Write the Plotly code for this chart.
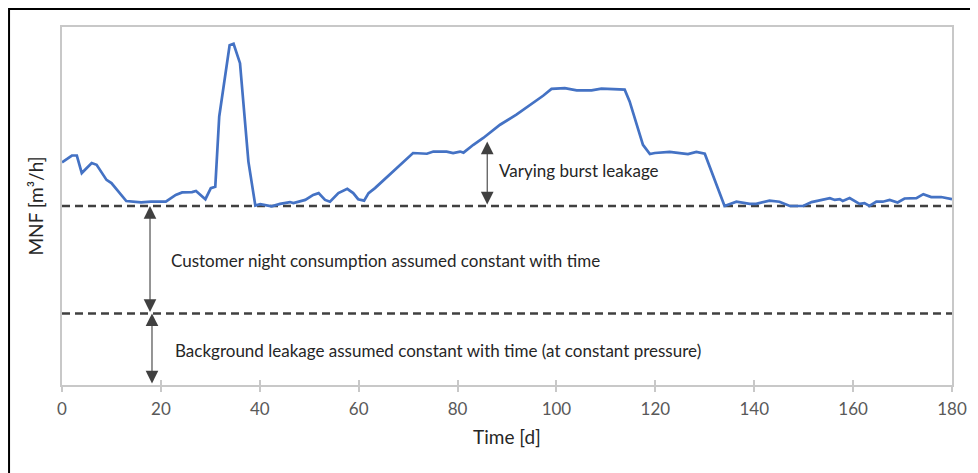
import plotly.graph_objects as go

# MNF time series (day, value in arbitrary flow units)
days = [0, 2, 3, 4, 6, 7, 9, 10, 13, 14.5, 16, 18, 21, 23, 24.3, 26.3, 27.1, 29, 30.1, 31, 31.8,
        33.9, 34.7, 36, 37.7, 39.1, 40.1, 42.4, 44.1, 46.1, 46.8, 49.2, 50.8, 51.9, 53.2, 54.2,
        55.9, 57.7, 58.9, 59.9, 61.1, 62, 63.3, 71, 72.4, 73.8, 75.1, 77.8, 79.1, 80.5, 81.2,
        83.2, 85.2, 88.6, 91.9, 95.3, 97.3, 99, 101.7, 104.1, 107.1, 109.1, 112.5, 113.8,
        114.8, 116.2, 117.5, 118.9, 119.9, 122.9, 126.6, 128.3, 130, 134, 136.4, 139.1, 140.4,
        143.1, 145.1, 147.2, 149.9, 151.6, 155.3, 156.3, 157.3, 157.9, 159.3, 161.3, 162.3,
        163.3, 164.7, 166, 167.4, 169, 170.4, 172.8, 174.2, 175.8, 177.8, 180]
mnf = [6.22, 6.41, 6.41, 5.92, 6.20, 6.15, 5.73, 5.64, 5.14, 5.12, 5.10, 5.12, 5.12, 5.31, 5.38,
       5.39, 5.42, 5.19, 5.50, 5.54, 7.50, 9.49, 9.53, 8.99, 6.24, 5.01, 5.05, 4.99, 5.06, 5.11,
       5.08, 5.17, 5.31, 5.36, 5.17, 5.12, 5.36, 5.48, 5.36, 5.19, 5.15, 5.36, 5.50, 6.48, 6.48,
       6.46, 6.52, 6.52, 6.48, 6.52, 6.49, 6.71, 6.90, 7.27, 7.55, 7.88, 8.08, 8.27, 8.29, 8.23,
       8.23, 8.28, 8.25, 8.25, 7.92, 7.27, 6.71, 6.45, 6.48, 6.51, 6.45, 6.51, 6.46, 5.00, 5.12,
       5.06, 5.06, 5.15, 5.12, 5.00, 5.00, 5.11, 5.22, 5.17, 5.19, 5.14, 5.22, 5.06, 5.08, 5.00,
       5.12, 5.12, 5.17, 5.10, 5.21, 5.22, 5.33, 5.25, 5.25, 5.19]

# Constant levels
background_level = 2.0
customer_top_level = 5.0
x_span = [0, 180]

x_ticks = [0, 20, 40, 60, 80, 100, 120, 140, 160, 180]

# Arrow annotations: (x, y_from, y_to)
burst_arrow = (86, 5.0, 6.80)
customer_arrow = (17.8, 2.0, 5.0)
background_arrow = (18.2, 0.0, 2.0)

labels = [
    ("Varying burst leakage", 88, 5.98),
    ("Customer night consumption assumed constant with time", 21.7, 3.47),
    ("Background leakage assumed constant with time (at constant pressure)", 22.5, 0.95),
]

FONT = "Lato, 'Open Sans', sans-serif"
DARK = "#404040"

fig = go.Figure()

for lvl in [customer_top_level, background_level]:
    fig.add_trace(go.Scatter(x=x_span, y=[lvl, lvl], mode="lines",
                             line=dict(color=DARK, width=2.5, dash="8px,5px"),
                             hoverinfo="skip", showlegend=False))

fig.add_trace(go.Scatter(x=days, y=mnf, mode="lines",
                         line=dict(color="#4472C4", width=2.7),
                         showlegend=False))

# invisible trace for overlay axis
fig.add_trace(go.Scatter(x=x_span, y=[0, 0], xaxis="x2", mode="lines",
                         line=dict(width=0), hoverinfo="skip", showlegend=False))

for (ax_x, y0, y1) in [burst_arrow, customer_arrow, background_arrow]:
    fig.add_annotation(x=ax_x, y=y1, ax=ax_x, ay=y0, xref="x", yref="y",
                       axref="x", ayref="y", text="", showarrow=True,
                       arrowhead=2, arrowside="end+start", arrowsize=2.3,
                       arrowwidth=1.1, arrowcolor=DARK, standoff=0, startstandoff=0)

for txt, lx, ly in labels:
    fig.add_annotation(x=lx, y=ly, xref="x", yref="y", text=txt, showarrow=False,
                       xanchor="left", yanchor="middle",
                       font=dict(family=FONT, size=17, color="#262626"))

# outer black frame of the picture
fig.add_shape(type="rect", xref="paper", yref="paper", x0=-0.0595, x1=1.06,
              y0=-0.35, y1=1.0503, line=dict(color="black", width=2),
              layer="below")

fig.update_layout(
    width=970, height=465,
    margin=dict(l=54, r=25.5, t=19, b=88, autoexpand=False),
    paper_bgcolor="white", plot_bgcolor="white",
    font=dict(family=FONT, color="#595959"),
    xaxis=dict(range=[0, 180], tickvals=x_ticks, showgrid=False, zeroline=False,
               showline=True, linecolor="#c8c8c8", linewidth=1.5, mirror=True,
               ticks="outside", ticklen=5, tickcolor="#c8c8c8", tickwidth=1.5,
               ticklabelstandoff=3,
               tickfont=dict(size=17, color="#595959"),
               title=dict(text="Time [d]", font=dict(size=19, color="#262626"), standoff=13)),
    xaxis2=dict(range=[0, 180], overlaying="x", side="bottom", tickvals=x_ticks,
                showticklabels=False, showgrid=False, zeroline=False, showline=False,
                ticks="inside", ticklen=5, tickcolor="#c8c8c8", tickwidth=1.5),
    yaxis=dict(range=[0, 10], showticklabels=False, showgrid=False, zeroline=False,
               showline=True, linecolor="#c8c8c8", linewidth=1.5, mirror=True, ticks="",
               title=dict(text="MNF [m³/h]", font=dict(size=19, color="#262626"), standoff=12)),
)

fig.write_html("out.html")
